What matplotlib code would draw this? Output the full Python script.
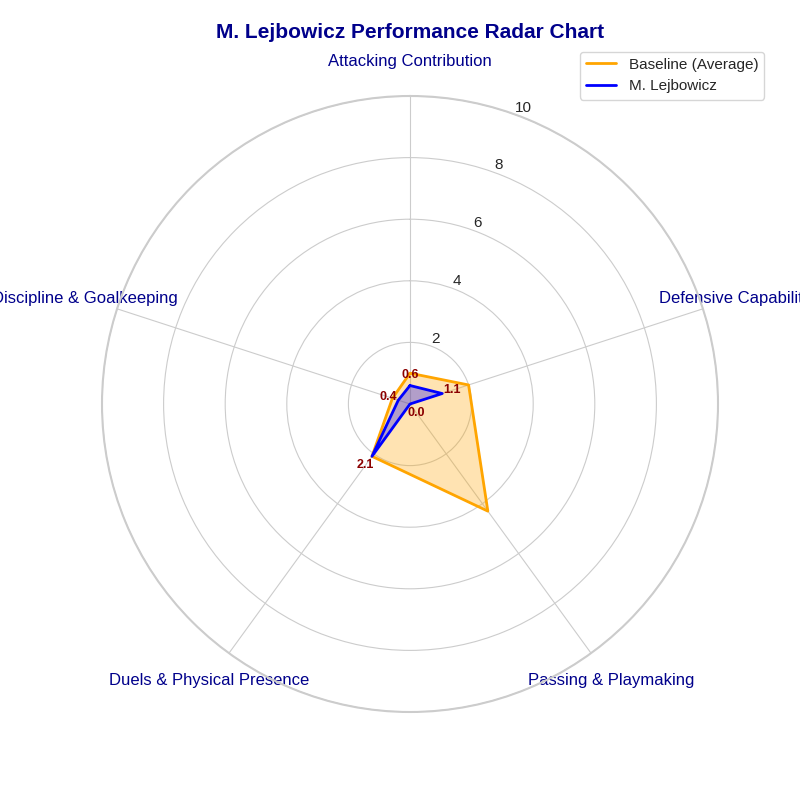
import matplotlib.pyplot as plt
import numpy as np
import seaborn as sns

sns.set_style('whitegrid')
plt.rcParams['font.family'] = ['Liberation Sans', 'DejaVu Sans']

categories = ['Attacking Contribution', 'Defensive Capability', 'Passing & Playmaking',
              'Duels & Physical Presence', 'Discipline & Goalkeeping']
baseline = [1.0, 2.0, 4.3, 2.1, 0.6]
player = [0.6, 1.1, 0.0, 2.1, 0.4]

n = len(categories)
angles = np.linspace(0, 2 * np.pi, n, endpoint=False).tolist()
angles_c = angles + angles[:1]
base_c = baseline + baseline[:1]
play_c = player + player[:1]

fig = plt.figure(figsize=(8, 8), dpi=100)
ax = fig.add_axes([0.1275, 0.11, 0.77, 0.77], polar=True)
ax.set_theta_offset(np.pi / 2)
ax.set_theta_direction(-1)

ax.plot(angles_c, base_c, color='orange', linewidth=2, label='Baseline (Average)')
ax.fill(angles_c, base_c, color='orange', alpha=0.3)
ax.plot(angles_c, play_c, color='blue', linewidth=2, label='M. Lejbowicz')
ax.fill(angles_c, play_c, color='blue', alpha=0.3)

for a, v in zip(angles, player):
    ax.text(a, v + 0.35, f'{v:.1f}', color='darkred', fontsize=9, fontweight='bold',
            ha='center', va='center')

ax.set_xticks(angles)
ax.set_xticklabels(categories, color='darkblue', fontsize=12)
ax.tick_params(axis='x', pad=14)
ax.set_ylim(0, 10)
ax.set_yticks([2, 4, 6, 8, 10])
ax.set_yticklabels(['2', '4', '6', '8', '10'], fontsize=11)
ax.set_rlabel_position(20)
ax.spines['polar'].set_color('#cccccc')
ax.spines['polar'].set_linewidth(1.5)

fig.text(0.5125, 0.96, 'M. Lejbowicz Performance Radar Chart', fontsize=15, fontweight='bold',
         color='darkblue', ha='center', va='center')
ax.legend(loc='upper right', bbox_to_anchor=(0.965, 0.945), bbox_transform=fig.transFigure,
          fontsize=11)
plt.savefig('out.png')
